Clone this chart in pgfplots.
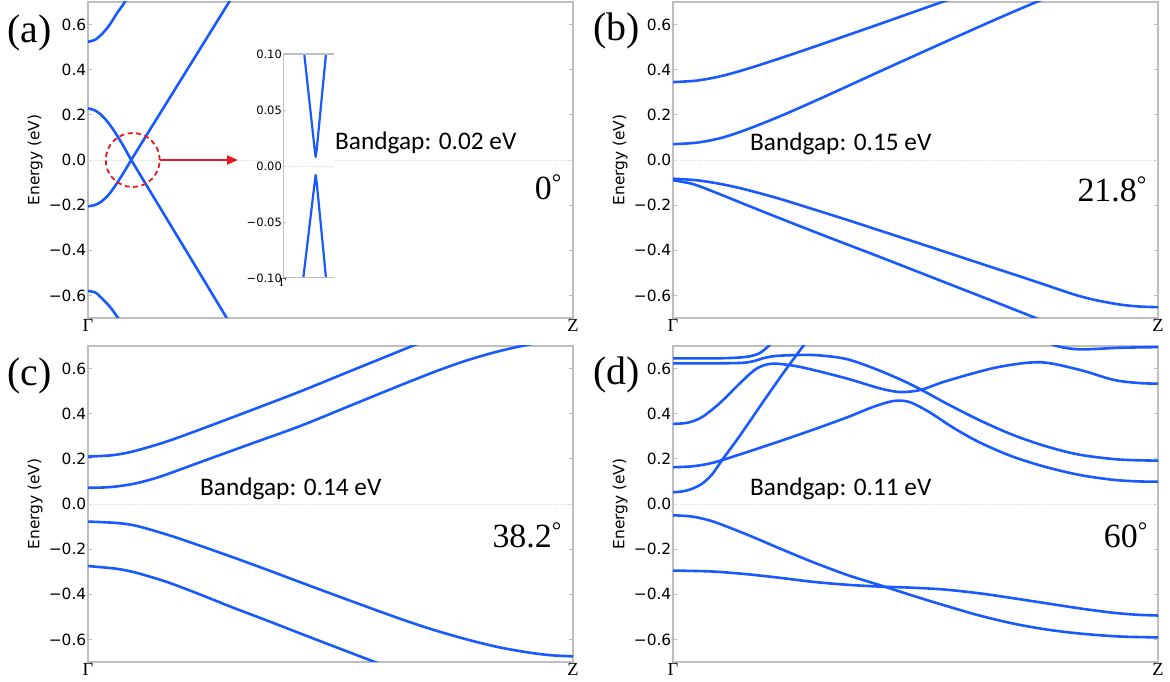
\documentclass[border=0pt]{standalone}
\usepackage{fontspec}
\setmainfont{Liberation Serif}
\newfontfamily\dejavu{DejaVu Sans}
\newfontfamily\carlito{Carlito}
\usepackage{pgfplots}
\pgfplotsset{compat=1.18}
\usetikzlibrary{arrows.meta}

\definecolor{bandblue}{RGB}{25,90,255}
\definecolor{framegray}{RGB}{190,190,190}
\definecolor{zerogreen}{RGB}{214,234,214}
\definecolor{markred}{RGB}{235,25,25}

\pgfplotsset{
  bandpanel/.style={
    scale only axis, width=485bp, height=316bp, anchor=south west,
    xmin=0, xmax=1, ymin=-0.7, ymax=0.7,
    axis line style={framegray, line width=1.2bp},
    tick style={framegray, line width=0.8bp},
    major tick length=4bp, tick align=inside,
    xtick={0,1}, xticklabels={Γ,Z},
    xticklabel style={font=\fontsize{18.5}{18.5}\selectfont, inner sep=1bp, anchor=north},
    ytick={-0.6,-0.4,-0.2,0,0.2,0.4,0.6},
    yticklabels={−0.6,−0.4,−0.2,0.0,0.2,0.4,0.6},
    yticklabel style={font=\dejavu\fontsize{15.5}{16}\selectfont, inner sep=1.5bp},
    every axis y label/.style={at={(axis description cs:-0.109,0.5)}, rotate=90, anchor=center,
      font=\dejavu\fontsize{15.5}{16}\selectfont},
    ylabel={Energy (eV)},
  },
  band/.style={bandblue, line width=2.6bp, line join=round, smooth, no markers},
  zero/.style={zerogreen, densely dotted, line width=0.7bp, no markers},
}
\tikzset{
  panellabel/.style={anchor=base west, inner sep=0, font=\fontsize{40}{40}\selectfont},
  gaplabel/.style={anchor=base west, inner sep=0, font=\carlito\fontsize{25.4}{26}\selectfont},
  anglelabel/.style={anchor=base east, inner sep=0, font=\fontsize{34}{34}\selectfont},
}

\begin{document}
\begin{tikzpicture}[x=1bp,y=1bp]
\useasboundingbox (0,0) rectangle (1170,682);

% (a) 0 degrees
\begin{axis}[bandpanel, at={(88bp,364bp)}]
\addplot[zero] coordinates {(0,0) (1,0)};
\addplot[band] coordinates {(0,0.524) (0.015,0.533) (0.031,0.563) (0.045,0.60) (0.06,0.651) (0.076,0.70) (0.09,0.76)};
\addplot[band] coordinates {(0,0.228) (0.012,0.222) (0.025,0.204) (0.04,0.17) (0.055,0.125) (0.073,0.062) (0.092,-0.01) (0.162,-0.259) (0.231,-0.504) (0.286,-0.70) (0.30,-0.75)};
\addplot[band] coordinates {(0,-0.205) (0.012,-0.201) (0.025,-0.188) (0.04,-0.16) (0.055,-0.118) (0.073,-0.058) (0.092,0.01) (0.162,0.253) (0.231,0.492) (0.291,0.70) (0.30,0.73)};
\addplot[band] coordinates {(0,-0.58) (0.015,-0.587) (0.025,-0.605) (0.045,-0.65) (0.062,-0.70) (0.075,-0.74)};
\end{axis}

% (a) inset around the crossing
\begin{axis}[at={(283bp,404bp)}, anchor=south west, scale only axis, width=51bp, height=224bp,
  xmin=0, xmax=0.144, ymin=-0.1, ymax=0.1,
  axis background/.style={fill=white},
  axis line style={draw=none},
  tick style={framegray, line width=0.8bp}, major tick length=3bp, tick align=inside,
  ytick pos=left, xtick={0}, xticklabels={Γ},
  xticklabel style={font=\fontsize{12}{12}\selectfont, inner sep=0.5bp, anchor=north},
  ytick={-0.1,-0.05,0,0.05,0.1},
  yticklabels={−0.10,−0.05,0.00,0.05,0.10},
  yticklabel style={font=\dejavu\fontsize{11.5}{12}\selectfont, inner sep=1bp},
]
\addplot[zero] coordinates {(0,0) (0.144,0)};
\addplot[bandblue, line width=2.2bp, line join=round, no markers] coordinates {(0.060,0.10) (0.089,0.016) (0.0923,0.008) (0.0956,0.016) (0.1214,0.10)};
\addplot[bandblue, line width=2.2bp, line join=round, no markers] coordinates {(0.0573,-0.10) (0.089,-0.016) (0.0923,-0.008) (0.0956,-0.016) (0.1214,-0.10)};
\draw[framegray, line width=1.2bp] (rel axis cs:1,1) -- (rel axis cs:0,1) -- (rel axis cs:0,0) -- (rel axis cs:1,0);
\end{axis}

% (b) 21.8 degrees
\begin{axis}[bandpanel, at={(673bp,364bp)}]
\addplot[zero] coordinates {(0,0) (1,0)};
\addplot[band] coordinates {(0,0.345) (0.05,0.352) (0.1,0.372) (0.152,0.403) (0.22,0.45) (0.289,0.50) (0.36,0.553) (0.427,0.603) (0.49,0.651) (0.555,0.70) (0.6,0.734)};
\addplot[band] coordinates {(0,0.07) (0.05,0.077) (0.1,0.098) (0.152,0.135) (0.22,0.193) (0.289,0.258) (0.36,0.327) (0.427,0.393) (0.53,0.493) (0.633,0.592) (0.70,0.655) (0.757,0.707) (0.8,0.745)};
\addplot[band] coordinates {(0,-0.083) (0.05,-0.09) (0.1,-0.107) (0.152,-0.132) (0.22,-0.172) (0.289,-0.218) (0.36,-0.266) (0.427,-0.313) (0.53,-0.385) (0.633,-0.458) (0.70,-0.505) (0.77,-0.555) (0.83,-0.598) (0.874,-0.622) (0.92,-0.64) (0.96,-0.649) (1,-0.652)};
\addplot[band] coordinates {(0,-0.09) (0.04,-0.106) (0.083,-0.14) (0.15,-0.198) (0.22,-0.258) (0.32,-0.342) (0.427,-0.43) (0.564,-0.545) (0.65,-0.617) (0.742,-0.695) (0.78,-0.727)};
\end{axis}

% (c) 38.2 degrees
\begin{axis}[bandpanel, at={(88bp,20bp)}]
\addplot[zero] coordinates {(0,0) (1,0)};
\addplot[band] coordinates {(0,0.21) (0.05,0.216) (0.093,0.233) (0.16,0.275) (0.231,0.33) (0.33,0.41) (0.437,0.498) (0.54,0.588) (0.657,0.69) (0.7,0.728)};
\addplot[band] coordinates {(0,0.072) (0.03,0.073) (0.06,0.078) (0.1,0.092) (0.15,0.122) (0.231,0.185) (0.33,0.262) (0.437,0.345) (0.54,0.435) (0.643,0.525) (0.72,0.59) (0.781,0.636) (0.84,0.673) (0.894,0.70) (0.93,0.715)};
\addplot[band] coordinates {(0,-0.078) (0.059,-0.084) (0.1,-0.097) (0.162,-0.135) (0.23,-0.184) (0.30,-0.237) (0.37,-0.292) (0.437,-0.346) (0.54,-0.428) (0.643,-0.508) (0.71,-0.556) (0.781,-0.6) (0.85,-0.636) (0.918,-0.661) (0.96,-0.671) (1,-0.675)};
\addplot[band] coordinates {(0,-0.275) (0.059,-0.287) (0.1,-0.305) (0.162,-0.345) (0.23,-0.4) (0.30,-0.46) (0.37,-0.517) (0.437,-0.573) (0.5,-0.625) (0.567,-0.68) (0.6,-0.707) (0.64,-0.74)};
\end{axis}

% (d) 60 degrees
\begin{axis}[bandpanel, at={(673bp,20bp)}]
\addplot[zero] coordinates {(0,0) (1,0)};
\addplot[band] coordinates {(0,0.645) (0.08,0.645) (0.13,0.648) (0.16,0.655) (0.18,0.67) (0.197,0.70) (0.21,0.73)};
\addplot[band] coordinates {(0,0.623) (0.08,0.623) (0.14,0.625) (0.165,0.632) (0.19,0.648) (0.22,0.657) (0.289,0.66) (0.358,0.642) (0.427,0.59) (0.495,0.525) (0.564,0.445) (0.633,0.37) (0.702,0.305) (0.77,0.255) (0.839,0.218) (0.92,0.197) (1,0.192)};
\addplot[band] coordinates {(0,0.355) (0.03,0.36) (0.06,0.385) (0.097,0.448) (0.138,0.535) (0.166,0.59) (0.185,0.613) (0.21,0.622) (0.25,0.612) (0.289,0.594) (0.36,0.555) (0.427,0.512) (0.468,0.496) (0.51,0.505) (0.564,0.545) (0.667,0.605) (0.757,0.628) (0.839,0.594) (0.908,0.55) (0.96,0.536) (1,0.533)};
\addplot[band] coordinates {(0,0.163) (0.04,0.167) (0.083,0.183) (0.15,0.228) (0.22,0.278) (0.29,0.33) (0.358,0.383) (0.41,0.428) (0.445,0.452) (0.465,0.458) (0.49,0.45) (0.53,0.405) (0.58,0.335) (0.633,0.272) (0.7,0.21) (0.77,0.163) (0.84,0.128) (0.908,0.107) (0.96,0.1) (1,0.099)};
\addplot[band] coordinates {(0,0.052) (0.02,0.056) (0.04,0.068) (0.06,0.09) (0.08,0.13) (0.103,0.2) (0.138,0.303) (0.193,0.475) (0.234,0.6) (0.272,0.71) (0.29,0.76)};
\addplot[band] coordinates {(0.76,0.73) (0.791,0.70) (0.839,0.685) (0.92,0.692) (1,0.695)};
\addplot[band] coordinates {(0,-0.05) (0.04,-0.056) (0.083,-0.078) (0.152,-0.135) (0.22,-0.197) (0.289,-0.258) (0.36,-0.315) (0.427,-0.36) (0.5,-0.41) (0.564,-0.452) (0.63,-0.493) (0.702,-0.53) (0.77,-0.556) (0.839,-0.574) (0.92,-0.587) (1,-0.591)};
\addplot[band] coordinates {(0,-0.295) (0.08,-0.299) (0.152,-0.311) (0.22,-0.327) (0.289,-0.345) (0.36,-0.358) (0.427,-0.366) (0.495,-0.371) (0.56,-0.379) (0.633,-0.396) (0.7,-0.417) (0.77,-0.44) (0.84,-0.463) (0.908,-0.482) (0.96,-0.491) (1,-0.494)};
\end{axis}

% zoom marker in (a)
\draw[markred, line width=1.8bp, dash pattern=on 5bp off 3.5bp] (132.7,522) circle[radius=27];
\draw[markred, line width=2bp, -{Triangle[length=11bp,width=9bp]}] (159.5,522) -- (238,522);

% panel letters
\node[panellabel] at (7,639) {(a)};
\node[panellabel] at (593,641) {(b)};
\node[panellabel] at (7,296) {(c)};
\node[panellabel] at (593,297) {(d)};

% band gaps
\node[gaplabel] at (335,532) {Bandgap: 0.02 eV};
\node[gaplabel] at (750,531) {Bandgap: 0.15 eV};
\node[gaplabel] at (200,186.5) {Bandgap: 0.14 eV};
\node[gaplabel] at (750,186.5) {Bandgap: 0.11 eV};

% twist angles
\node[anglelabel] at (562,482) {0\textsuperscript{°}};
\node[anglelabel] at (1147,480) {21.8\textsuperscript{°}};
\node[anglelabel] at (562,134) {38.2\textsuperscript{°}};
\node[anglelabel] at (1148,134) {60\textsuperscript{°}};
\end{tikzpicture}
\end{document}
